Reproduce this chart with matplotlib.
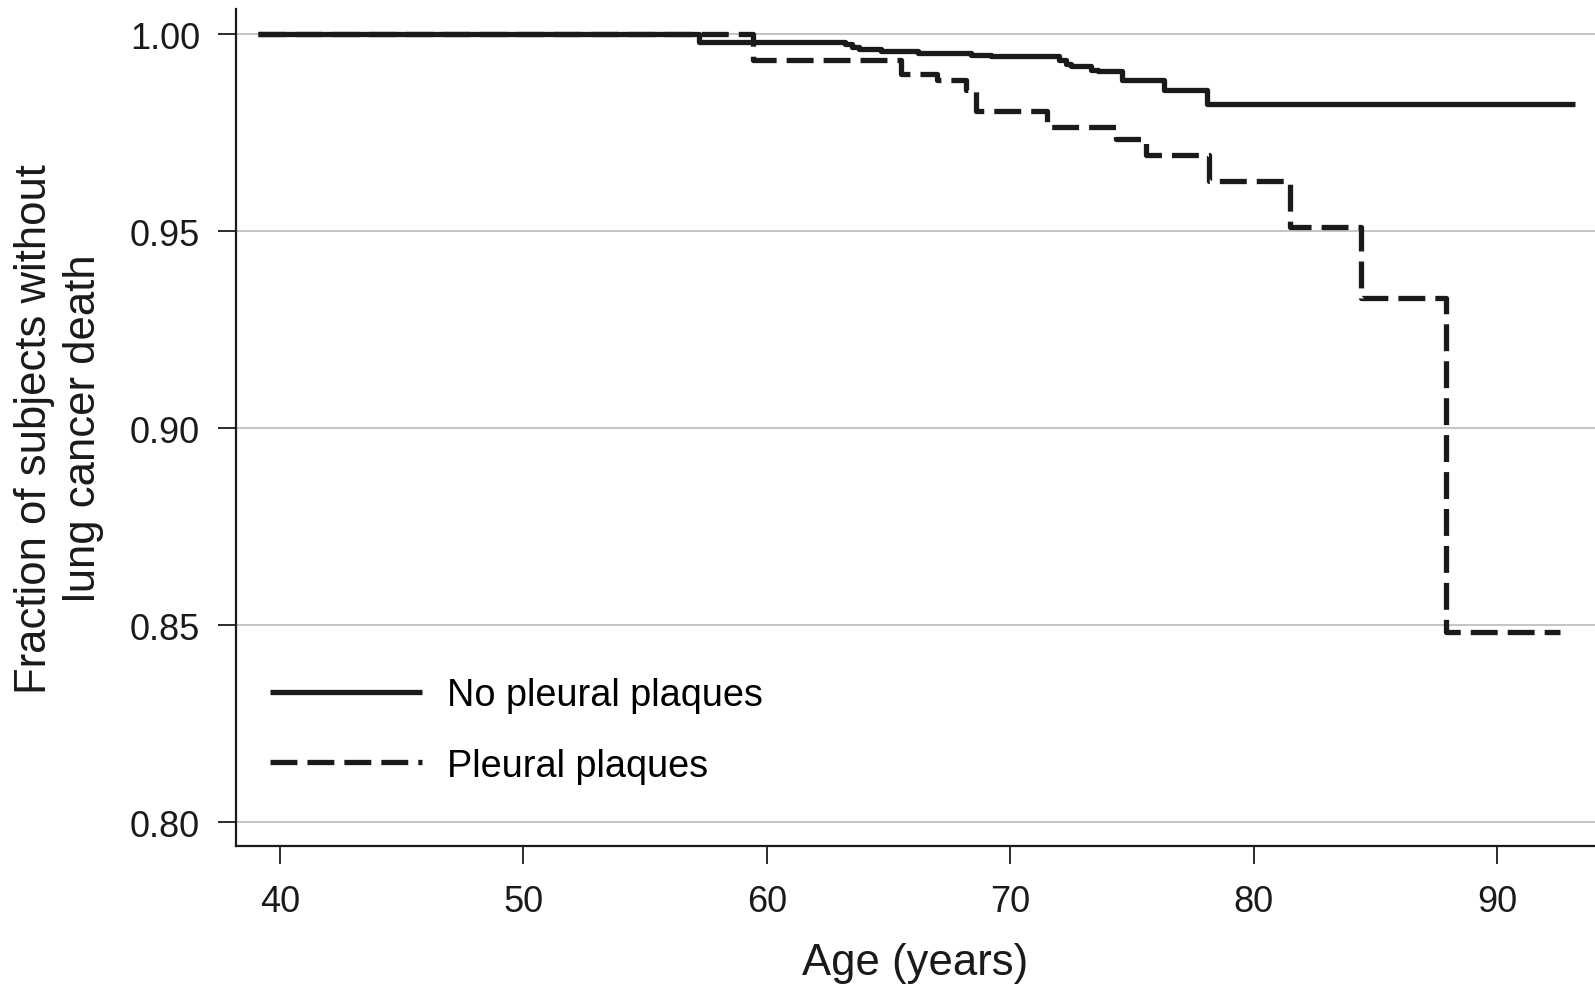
import matplotlib.pyplot as plt
from matplotlib.lines import Line2D

plt.rcParams['font.family'] = ['Liberation Sans', 'DejaVu Sans']

# Kaplan-Meier steps (age, survival fraction)
age_sem = [39.1, 57.2, 63.2, 63.5, 63.8, 64.7, 66.2, 68.4, 69.2, 70.3,
           72.0, 72.3, 72.5, 73.3, 73.6, 74.6, 76.3, 78.1, 93.2]
surv_sem = [1.000, 0.9982, 0.9976, 0.9968, 0.9963, 0.9958, 0.9952, 0.9948,
            0.9945, 0.9945, 0.9934, 0.9925, 0.9919, 0.9911, 0.9907, 0.9885,
            0.9860, 0.9823, 0.9823]

age_com = [39.1, 59.45, 65.5, 67.0, 68.2, 68.6, 71.5, 74.35, 75.6, 78.15,
           81.5, 84.4, 87.9, 92.6]
surv_com = [1.000, 0.9935, 0.9900, 0.9885, 0.9859, 0.9807, 0.9766, 0.9735,
            0.9695, 0.9627, 0.9512, 0.9332, 0.8482, 0.8482]

rotulos = ['No pleural plaques', 'Pleural plaques']
yticks = [0.80, 0.85, 0.90, 0.95, 1.00]
xticks = [40, 50, 60, 70, 80, 90]

fig = plt.figure(figsize=(15.95, 9.87), dpi=100)
ax = fig.add_axes([0.148, 0.1415, 0.852, 0.8485])

lw = 3.8
tracos = (5.1, 1.9)
ax.step(age_com, surv_com, where='post', color='#1a1a1a', lw=lw,
        dashes=tracos, dash_capstyle='butt', solid_capstyle='butt')
ax.step(age_sem, surv_sem, where='post', color='#1a1a1a', lw=lw,
        solid_capstyle='butt')

ax.set_xlim(38.19, 94.03)
ax.set_ylim(0.7939, 1.0065)
ax.set_yticks(yticks)
ax.set_yticklabels(['%.2f' % v for v in yticks])
ax.set_xticks(xticks)

ax.yaxis.grid(True, color='#b4b4b4', lw=1.1)
ax.set_axisbelow(True)
for s in ['top', 'right']:
    ax.spines[s].set_visible(False)
for s in ['left', 'bottom']:
    ax.spines[s].set_linewidth(1.6)
    ax.spines[s].set_color('#1a1a1a')

ax.tick_params(axis='both', direction='out', length=13, width=1.3,
               labelsize=26, colors='#1a1a1a')
ax.tick_params(axis='y', pad=13)
ax.tick_params(axis='x', pad=14)

ax.set_xlabel('Age (years)', fontsize=31.4, color='#1a1a1a')
ax.set_ylabel('Fraction of subjects without\nlung cancer death', fontsize=31.4,
              color='#1a1a1a', linespacing=1.25)
ax.xaxis.set_label_coords(0.5, -0.1146)
ax.yaxis.set_label_coords(-0.097, 0.5)

handles = [Line2D([], [], color='#1a1a1a', lw=lw, solid_capstyle='butt'),
           Line2D([], [], color='#1a1a1a', lw=lw, dashes=tracos,
                  dash_capstyle='butt')]
ax.legend(handles, rotulos, loc='lower left', bbox_to_anchor=(0.025, 0.075),
          frameon=False, fontsize=27.3, handlelength=4.0, handletextpad=0.67,
          labelspacing=0.9, borderpad=0, borderaxespad=0)

fig.savefig('out.png', dpi=100)
